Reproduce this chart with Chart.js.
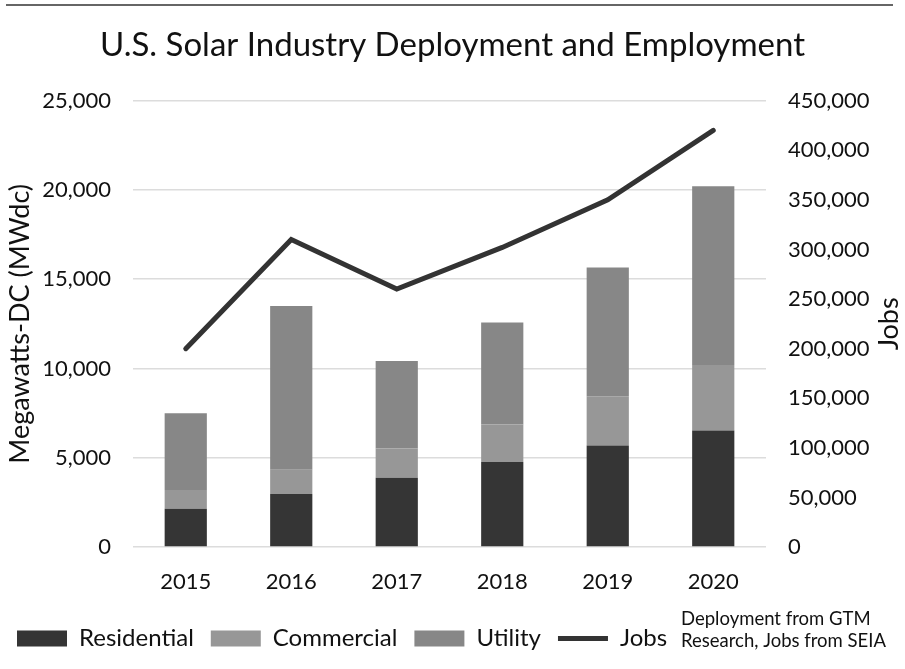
<!DOCTYPE html>
<html>
<head>
<meta charset="utf-8">
<title>U.S. Solar Industry Deployment and Employment</title>
<script src="https://cdn.jsdelivr.net/npm/chart.js@4/dist/chart.umd.min.js"></script>
<style>
  html, body { margin: 0; padding: 0; background: #fff; }
  #solar { display: block; }
</style>
</head>
<body>
<canvas id="solar" width="905" height="669"></canvas>
<script>
/**************************
* Datasets
**************************/

// Installed capacity by segment, MWdc
var years = ['2015', '2016', '2017', '2018', '2019', '2020'];
var residential = [2150, 2980, 3880, 4760, 5690, 6530];
var commercial = [1050, 1350, 1640, 2110, 2750, 3660];
var utility = [4290, 9170, 4900, 5710, 7210, 10010];

// Solar jobs (right axis)
var jobs = [200000, 310000, 260000, 302000, 350000, 420000];

var mwTicks = [0, 5000, 10000, 15000, 20000, 25000];
var jobTicks = [0, 50000, 100000, 150000, 200000, 250000, 300000, 350000, 400000, 450000];

var sourceNote = ['Deployment from GTM', 'Research, Jobs from SEIA'];

var FONT = 'Lato, "DejaVu Sans", sans-serif';
var INK = '#111';

function fmt(v) { return Number(v).toLocaleString('en-US'); }

// rule across the top, right-hand "Jobs" label and the source note
var decorations = {
	id: 'decorations',
	beforeDraw: function (chart) {
		var ctx = chart.ctx;
		ctx.save();
		ctx.strokeStyle = '#666';
		ctx.lineWidth = 2;
		ctx.beginPath();
		ctx.moveTo(6, 5);
		ctx.lineTo(893, 5);
		ctx.stroke();
		ctx.restore();
	},
	afterDraw: function (chart) {
		var ctx = chart.ctx;
		var area = chart.chartArea;
		ctx.save();
		ctx.fillStyle = INK;
		// right axis title, reading bottom to top
		ctx.font = '27px ' + FONT;
		ctx.textAlign = 'center';
		ctx.textBaseline = 'middle';
		ctx.translate(889, (area.top + area.bottom) / 2);
		ctx.rotate(-Math.PI / 2);
		ctx.fillText('Jobs', 0, 0);
		ctx.restore();

		ctx.save();
		ctx.fillStyle = INK;
		ctx.font = '18.5px ' + FONT;
		ctx.textAlign = 'left';
		ctx.textBaseline = 'middle';
		ctx.fillText(sourceNote[0], 681, 619);
		ctx.fillText(sourceNote[1], 681, 641);
		ctx.restore();
	}
};

/*
* Chart definition
*/
var chart = new Chart(document.getElementById('solar'), {
	type: 'bar',
	data: {
		labels: years,
		datasets: [
			{ label: 'Residential', data: residential, backgroundColor: '#353535', yAxisID: 'y', stack: 'mw', pointStyle: 'rect' },
			{ label: 'Commercial', data: commercial, backgroundColor: '#979797', yAxisID: 'y', stack: 'mw', pointStyle: 'rect' },
			{ label: 'Utility', data: utility, backgroundColor: '#878787', yAxisID: 'y', stack: 'mw', pointStyle: 'rect' },
			{
				label: 'Jobs', type: 'line', data: jobs, yAxisID: 'y2',
				borderColor: '#333', backgroundColor: '#333', borderWidth: 5,
				pointRadius: 0, pointStyle: 'line', tension: 0,
				borderCapStyle: 'round', borderJoinStyle: 'miter'
			}
		]
	},
	options: {
		responsive: false,
		animation: false,
		layout: { padding: { left: 0, right: 0, top: 0, bottom: 8.5 } },
		datasets: { bar: { barPercentage: 0.4, categoryPercentage: 1 } },
		plugins: {
			title: {
				display: true,
				text: 'U.S. Solar Industry Deployment and Employment',
				color: INK,
				font: { family: FONT, size: 33, weight: 'normal' },
				padding: { top: 26, bottom: 35 }
			},
			legend: {
				position: 'bottom',
				align: 'start',
				labels: {
					color: INK,
					font: { family: FONT, size: 24 },
					usePointStyle: true,
					pointStyleWidth: 50,
					boxWidth: 50,
					boxHeight: 16,
					padding: 17
				}
			},
			tooltip: { enabled: false }
		},
		scales: {
			x: {
				stacked: true,
				grid: { display: false },
				border: { display: false },
				ticks: { color: INK, font: { family: FONT, size: 22 }, padding: 14 }
			},
			y: {
				position: 'left',
				stacked: true,
				min: 0,
				max: 25000,
				afterBuildTicks: function (axis) { axis.ticks = mwTicks.map(function (v) { return { value: v }; }); },
				afterFit: function (axis) { axis.width = 133; },
				grid: { color: '#dcdcdc', lineWidth: 1.5, drawTicks: false },
				border: { display: false },
				ticks: { color: INK, font: { family: FONT, size: 22 }, padding: 22, callback: fmt },
				title: {
					display: true,
					text: 'Megawatts-DC (MWdc)',
					color: INK,
					font: { family: FONT, size: 27 },
					padding: { top: 4, bottom: 0 }
				}
			},
			y2: {
				position: 'right',
				min: 0,
				max: 450000,
				afterBuildTicks: function (axis) { axis.ticks = jobTicks.map(function (v) { return { value: v }; }); },
				afterFit: function (axis) { axis.width = 139; },
				grid: { display: false, drawTicks: false },
				border: { display: false },
				ticks: { color: INK, font: { family: FONT, size: 22 }, padding: 22, callback: fmt }
			}
		}
	},
	plugins: [decorations]
});
</script>
</body>
</html>
